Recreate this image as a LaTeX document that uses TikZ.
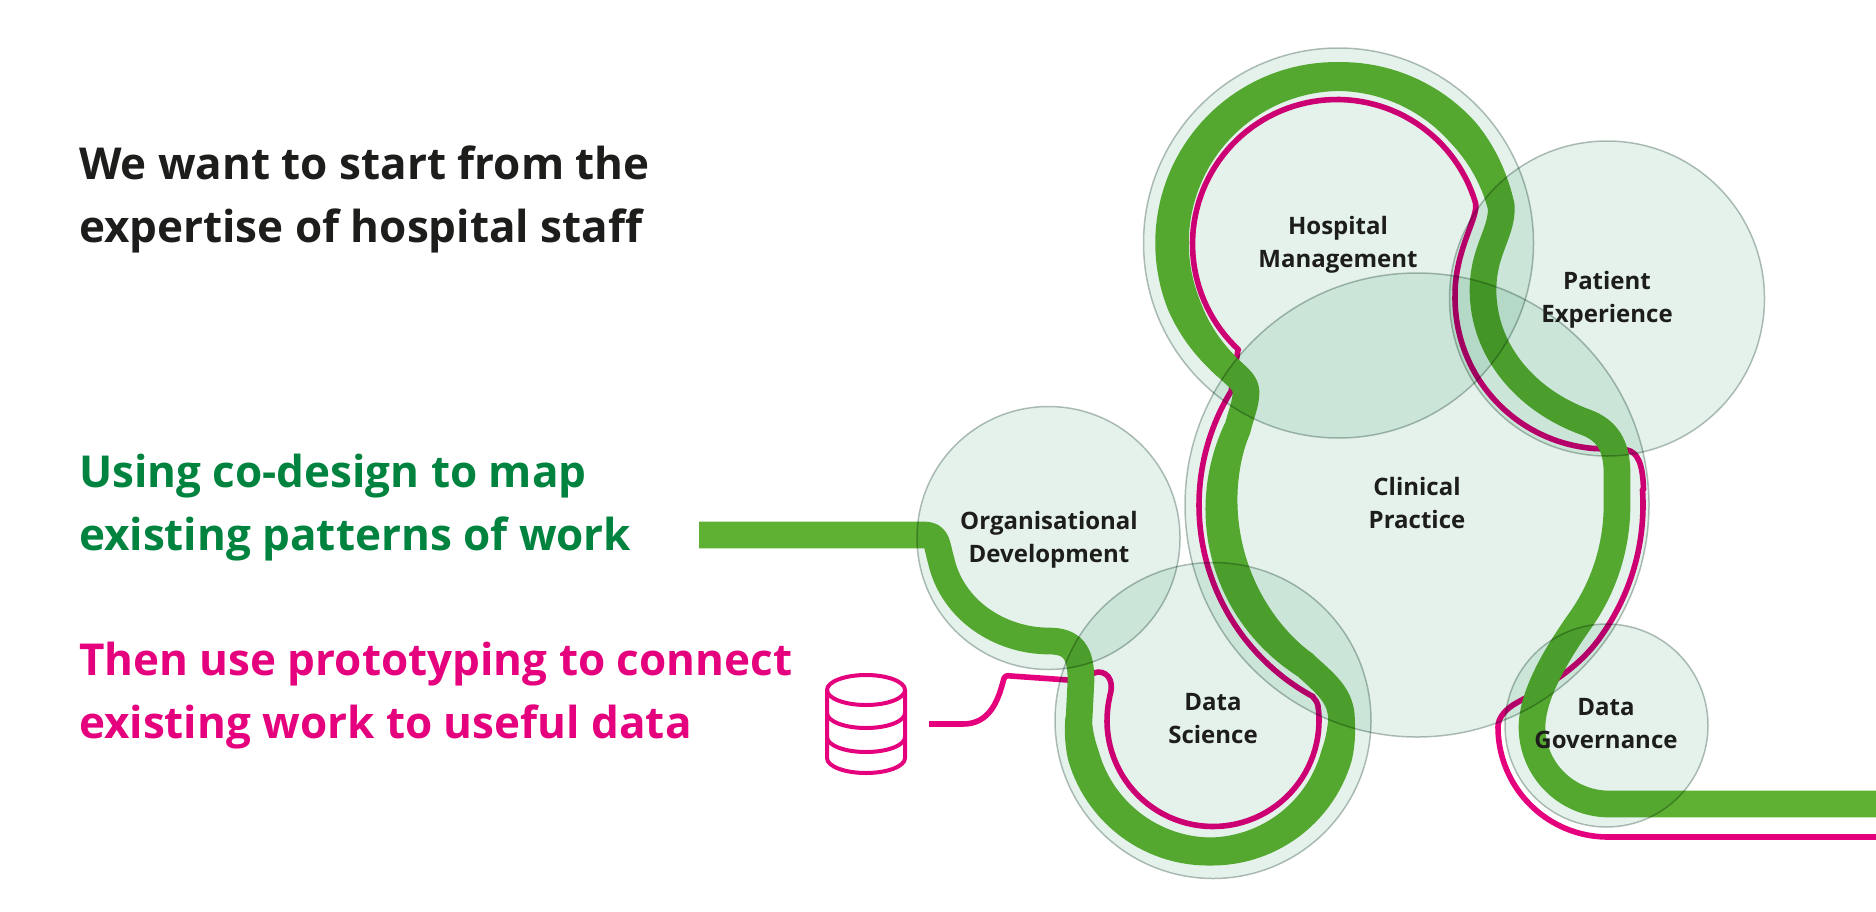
\documentclass[tikz,border=0pt]{standalone}
\usepackage{fontspec}
\setmainfont{Open Sans}
\usetikzlibrary{calc}
\definecolor{ink}{HTML}{1D1D1B}
\definecolor{headgreen}{HTML}{00833E}
\definecolor{signalpink}{HTML}{E5007D}
\definecolor{routegreen}{HTML}{5EB133}
\definecolor{bubblefill}{HTML}{E4F2EB}
\definecolor{bubbleedge}{HTML}{B4C0BA}
\pgfmathdeclarefunction{swellH}{1}{\pgfmathparse{13.35+min(1.1+2.3*abs(cos(#1)),(#1-132.4)/8,(347-#1)/10)}}
\pgfmathdeclarefunction{swellS}{1}{\pgfmathparse{13.35+min(0.65+2*abs(cos(#1)),(180-#1)/6,#1/6)}}
\pgfmathdeclarefunction{swellC}{1}{\pgfmathparse{13.35+3.3*sin(180*(#1-125)/78)}}
\tikzset{
  bubble/.style={circle,inner sep=0pt,outer sep=0pt,fill=bubblefill,draw=bubbleedge,line width=1.5pt,blend mode=multiply},
  bigline/.style={font=\fontsize{44}{63}\selectfont\bfseries,align=left,anchor=base west},
  label/.style={font=\fontsize{24}{33}\selectfont\bfseries,align=center,text=ink,anchor=base},
  greenroute/.style={draw=routegreen,line width=26.7pt,line join=round},
  greenswell/.style={fill=routegreen,draw=none},
  pinkroute/.style={draw=signalpink,line width=5.6pt,line join=round},
  dbline/.style={draw=signalpink,line width=4pt,line join=round}
}
\begin{document}
\begin{tikzpicture}[x=1pt,y=-1pt]
\useasboundingbox (0,0) rectangle (1876,911);
\coordinate (cH) at (1338.5,243);
\coordinate (cP) at (1607,298.5);
\coordinate (cC) at (1417,505);
\coordinate (cO) at (1048.5,538);
\coordinate (cS) at (1213,720.5);
\coordinate (cG) at (1606.5,725.5);
\coordinate (gstart) at (699,535);
\coordinate (gend) at (1876,804);
\coordinate (pstart) at (929,724);
\coordinate (pend) at (1876,837);
% pink route
\draw[pinkroute] (pstart) -- (963,724) .. controls (990,724) and (998,700) .. (1003,682)
  .. controls (1004,676) and (1006,675) .. (1011,676) -- (1068,680) -- (1098,672)
  .. controls (1110,672) and (1114,684) .. (1109.5,697)
  -- plot[domain=193:-8,samples=60] ({1213+106*cos(\x)},{720.5+106*sin(\x)})
  .. controls (1317,702) and (1315,699) .. (1313,697)
  -- plot[domain=118.4:211.5,samples=60] ({1417+218*cos(\x)},{505+218*sin(\x)})
  -- (1238,350)
  -- plot[domain=133:343,samples=80] ({1337+144.5*cos(\x)},{244+144.5*sin(\x)})
  .. controls (1480,215) and (1457,245) .. (1455,290)
  -- plot[domain=183:95,samples=50] ({1606+151*cos(\x)},{298+151*sin(\x)})
  -- (1627,450) .. controls (1638,452) and (1643,465) .. (1643.5,490)
  -- plot[domain=-4:35,samples=30] ({1417+226*cos(\x)},{505+226*sin(\x)})
  .. controls (1585,660) and (1560,680) .. (1518,702)
  .. controls (1505,709) and (1498,718) .. (1498,727)
  -- plot[domain=180:90,samples=40] ({1608+110*cos(\x)},{727+110*sin(\x)})
  -- (pend);
% green route
\draw[greenroute] (gstart) -- (925,535) .. controls (938,535) and (937,547) .. (941,560)
  .. controls (952,610) and (1000,641) .. (1049,641)
  .. controls (1072,641) and (1081,652) .. (1081,680) -- (1079,720)
  -- plot[domain=180:0,samples=80] ({1210+131.5*cos(\x)},{720+131.5*sin(\x)})
  .. controls (1341.5,696) and (1326,684) .. (1305,665)
  -- plot[domain=125:203,samples=50] ({1417+195*cos(\x)},{505+195*sin(\x)})
  .. controls (1241,414) and (1246,404) .. (1246,392)
  .. controls (1246,382) and (1236,376) .. (1226,366)
  -- plot[domain=132.4:347,samples=90] ({1338.5+167*cos(\x)},{243+167*sin(\x)})
  .. controls (1503,232) and (1483,250) .. (1483,290)
  .. controls (1483,350) and (1525,400) .. (1585,422)
  .. controls (1607,430) and (1616,445) .. (1617,470)
  -- plot[domain=-1:34,samples=30] ({1417+200*cos(\x)},{505+200*sin(\x)})
  .. controls (1565,642) and (1532,690) .. (1532,727)
  -- plot[domain=180:90,samples=40] ({1609+77*cos(\x)},{727+77*sin(\x)})
  -- (gend);
% places where the green route runs wider
\fill[greenswell] plot[domain=180:0,samples=70] ({1210+(131.5+swellS(\x))*cos(\x)},{720+(131.5+swellS(\x))*sin(\x)})
  -- plot[domain=0:180,samples=70] ({1210+(131.5-swellS(\x))*cos(\x)},{720+(131.5-swellS(\x))*sin(\x)}) -- cycle;
\fill[greenswell] plot[domain=125:203,samples=40] ({1417+(195.5+swellC(\x))*cos(\x)},{505+(195.5+swellC(\x))*sin(\x)})
  -- plot[domain=203:125,samples=40] ({1417+(195.5-swellC(\x))*cos(\x)},{505+(195.5-swellC(\x))*sin(\x)}) -- cycle;
\fill[greenswell] plot[domain=132.4:347,samples=90] ({1338.5+(166.5+swellH(\x))*cos(\x)},{243+(166.5+swellH(\x))*sin(\x)})
  -- plot[domain=347:132.4,samples=90] ({1338.5+(166.5-swellH(\x))*cos(\x)},{243+(166.5-swellH(\x))*sin(\x)}) -- cycle;
% bubbles
\node[bubble,minimum size=390pt] (hospital) at (cH) {};
\node[bubble,minimum size=315pt] (patient) at (cP) {};
\node[bubble,minimum size=464pt] (clinical) at (cC) {};
\node[bubble,minimum size=263pt] (orgdev) at (cO) {};
\node[bubble,minimum size=316pt] (science) at (cS) {};
\node[bubble,minimum size=203pt] (governance) at (cG) {};
% labels (anchored on the last baseline)
\node[label] (lh) at (1338,267) {Hospital\\Management};
\node[label] (lp) at (1607,322.5) {Patient\\Experience};
\node[label] (lc) at (1417,528.5) {Clinical\\Practice};
\node[label] (lo) at (1049,562) {Organisational\\Development};
\node[label] (ls) at (1213,743.5) {Data\\Science};
\node[label] (lg) at (1606,748.5) {Data\\Governance};
% headings
\node[bigline,text=ink] (t1) at (75.5,242.5) {We want to start from the\\expertise of hospital staff};
\node[bigline,text=headgreen] (t2) at (75.5,550.5) {Using co-design to map\\existing patterns of work};
\node[bigline,text=signalpink] (t3) at (75.5,738.5) {Then use prototyping to connect\\existing work to useful data};
% database
\draw[dbline] (866,690) ellipse [x radius=39,y radius=15];
\draw[dbline] (827,690) -- (827,758) .. controls (827,766.3) and (844.5,773) .. (866,773)
  .. controls (887.5,773) and (905,766.3) .. (905,758) -- (905,690);
\draw[dbline] (827,713) .. controls (827,721.3) and (844.5,728) .. (866,728)
  .. controls (887.5,728) and (905,721.3) .. (905,713);
\draw[dbline] (827,737) .. controls (827,745.3) and (844.5,752) .. (866,752)
  .. controls (887.5,752) and (905,745.3) .. (905,737);
\end{tikzpicture}
\end{document}
